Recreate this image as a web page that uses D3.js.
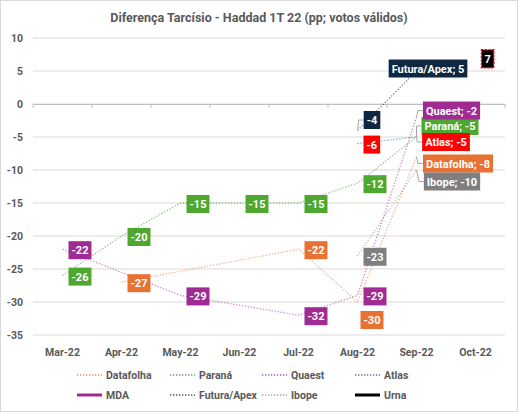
<!DOCTYPE html>
<html><head><meta charset="utf-8">
<script src="https://cdn.jsdelivr.net/npm/d3@7"></script>
<style>
html,body{margin:0;padding:0;background:#fff;}
svg text{font-family:"Roboto","Liberation Sans",sans-serif;}
</style></head>
<body><svg id="c" width="518" height="412"></svg>
<script>
// ---- data ----
const title = "Diferença Tarcísio - Haddad 1T 22 (pp; votos válidos)";
const months = ["Mar-22","Apr-22","May-22","Jun-22","Jul-22","Aug-22","Sep-22","Oct-22"];
const yTicks = [10,5,0,-5,-10,-15,-20,-25,-30,-35];
const seriesNames = ["Datafolha","Paraná","Quaest","Atlas","MDA","Futura/Apex","Ibope","Urna"];
const datafolha = [null,-27,null,null,-22,-30,-8,null];
const parana    = [-26,-20,-15,-15,-15,-12,-5,null];
const quaest    = [-22,null,-29,null,-32,-29,-2,null];
const atlas     = [null,null,null,null,null,-6,-5,null];
const mda       = [null,null,null,null,null,null,null,null];
const futura    = [null,null,null,null,null,-4,5,null];
const ibope     = [null,null,null,null,null,-23,-10,null];
const urna      = [null,null,null,null,null,null,null,7];

// ---- styles / layout ----
const styles = {
  "Datafolha":  {line:"#E97132", fill:"#E97132", dash:true},
  "Paraná":     {line:"#3F8F2A", fill:"#4EA72E", dash:true},
  "Quaest":     {line:"#A02B93", fill:"#A02B93", dash:true},
  "Atlas":      {line:"#156082", fill:"#FF0000", dash:true},
  "MDA":        {line:"#A02B93", fill:"#A02B93", dash:false, w:3},
  "Futura/Apex":{line:"#0E2841", fill:"#0E2841", dash:true},
  "Ibope":      {line:"#8C8C8C", fill:"#7F7F7F", dash:true},
  "Urna":       {line:"#000000", fill:"#000000", dash:false, w:3, border:"#FF0000"}
};
// label box centre offsets from point (px) for moved labels; last-month labels show series name
const moved = {
  "Quaest|6":[35,-6.7,true], "Paraná|6":[33.5,-11,true], "Atlas|6":[29.5,5,true],
  "Datafolha|6":[41.5,6.7,true], "Ibope|6":[35.5,11.5,true], "Futura/Apex|6":[11.5,-2.5,false],
  "Futura/Apex|5":[14.5,-10.4,true], "Datafolha|5":[14.5,18,false]
};
const values = [datafolha,parana,quaest,atlas,mda,futura,ibope,urna];

const svg = d3.select("#c");
svg.append("rect").attr("x",0.5).attr("y",0.5).attr("width",517).attr("height",411)
  .attr("fill","#fff").attr("stroke","#D9D9D9");

const x = d3.scaleBand().domain(months).range([33,505]).padding(0);
const y = d3.scaleLinear().domain([-35,10]).range([335,38]);
const cx = m => x(m) + x.bandwidth()/2;

// title
svg.append("text").attr("x",259).attr("y",22).attr("text-anchor","middle")
  .attr("font-size",12.5).attr("font-weight","bold").attr("fill","#595959").text(title);

// gridlines
svg.append("g").selectAll("line").data(yTicks).join("line")
  .attr("x1",33).attr("x2",505).attr("y1",d=>y(d)).attr("y2",d=>y(d))
  .attr("stroke","#D9D9D9").attr("stroke-width",1);
// y labels
svg.append("g").selectAll("text").data(yTicks).join("text")
  .attr("x",23).attr("y",d=>y(d)+4).attr("text-anchor","end")
  .attr("font-size",10.5).attr("font-weight","bold").attr("fill","#595959").text(d=>d);

// x axis at 0 with ticks between categories
const xa = svg.append("g").attr("transform",`translate(0,${y(0)})`)
  .call(d3.axisBottom(x).tickSize(0).tickFormat(""));
xa.select(".domain").attr("stroke","#BFBFBF");
const bounds = months.map(m=>x(m)).concat([x.range()[1]]);
xa.selectAll(".tk").data(bounds).join("line").attr("class","tk")
  .attr("x1",d=>d).attr("x2",d=>d).attr("y1",0).attr("y2",4).attr("stroke","#BFBFBF");
// x labels at bottom
svg.append("g").selectAll("text").data(months).join("text")
  .attr("x",d=>cx(d)).attr("y",356).attr("text-anchor","middle")
  .attr("font-size",10.5).attr("font-weight","bold").attr("fill","#595959").text(d=>d);

// lines
const gL = svg.append("g");
seriesNames.forEach((s,i)=>{
  const pts = values[i].map((v,j)=>({m:months[j],v})).filter(p=>p.v!==null);
  if(pts.length<2) return;
  const st = styles[s];
  gL.append("path").datum(pts)
    .attr("d",d3.line().x(p=>cx(p.m)).y(p=>y(p.v)))
    .attr("fill","none").attr("stroke",st.line).attr("stroke-width",st.w||1.3)
    .attr("stroke-dasharray",st.dash?"1.3,1.7":null).attr("opacity",st.dash?0.55:1);
});

// labels
const gLead = svg.append("g"), gLab = svg.append("g");
seriesNames.forEach((s,i)=>{
  const st = styles[s];
  values[i].forEach((v,j)=>{
    if(v===null) return;
    const px = cx(months[j]), py = y(v);
    const key = s+"|"+j;
    const txt = (moved[key] && j===6) ? `${s}; ${v}` : `${v}`;
    const g = gLab.append("g");
    const t = g.append("text").attr("font-size",11).attr("font-weight","bold")
      .attr("fill","#fff").attr("text-anchor","middle").attr("dominant-baseline","central").text(txt);
    const w = t.node().getComputedTextLength() + 6, h = 18;
    let ccx, ccy;
    if(moved[key]){ ccx = px+moved[key][0]; ccy = py+moved[key][1]; }
    else { ccx = px+6+w/2; ccy = py+1; }
    t.attr("x",ccx).attr("y",ccy+0.5);
    g.insert("rect","text").attr("x",ccx-w/2).attr("y",ccy-h/2).attr("width",w).attr("height",h)
      .attr("fill",st.fill).attr("stroke",st.border||"none").attr("stroke-width",st.border?1.5:0)
      .attr("stroke-dasharray",st.border?"2,1.5":null);
    if(moved[key] && moved[key][2]){
      const bx = ccx-w/2;
      gLead.append("path").attr("d",`M${px},${py}L${bx-5},${ccy}L${bx},${ccy}`)
        .attr("fill","none").attr("stroke","#A6A6A6").attr("stroke-width",1);
    }
  });
});

// legend
const legCols = [77,170,262,355], legRows=[375,395];
seriesNames.forEach((s,i)=>{
  const st = styles[s];
  const lx = legCols[i%4], ly = legRows[Math.floor(i/4)];
  svg.append("line").attr("x1",lx).attr("x2",lx+25).attr("y1",ly).attr("y2",ly)
    .attr("stroke",st.line).attr("stroke-width",st.w||1.3)
    .attr("stroke-dasharray",st.dash?"1.3,1.7":null).attr("opacity",st.dash?0.8:1);
  svg.append("text").attr("x",lx+29).attr("y",ly+4).attr("font-size",10.5)
    .attr("font-weight","bold").attr("fill","#595959").text(s);
});
</script></body></html>
